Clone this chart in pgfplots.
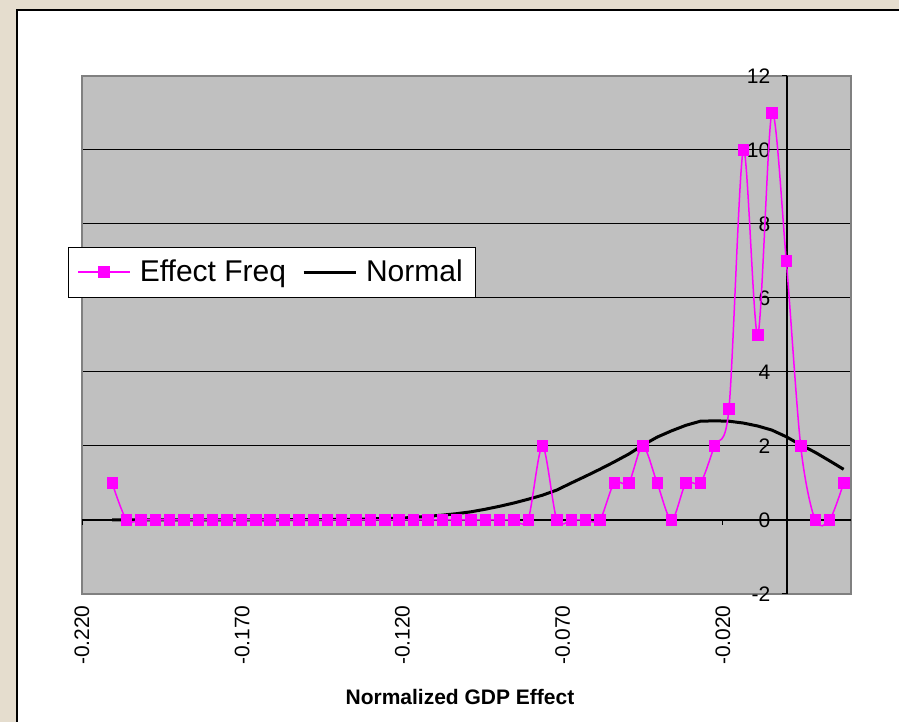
\documentclass[border=0pt]{standalone}
\usepackage{fontspec}
\setmainfont{Liberation Sans}
\usepackage{pgfplots}
\usepackage{pgfplotstable}
\pgfplotsset{compat=1.18}
\definecolor{bgbeige}{RGB}{229,221,206}
\definecolor{plotgray}{RGB}{192,192,192}
\definecolor{framegray}{RGB}{128,128,128}
\definecolor{mag}{RGB}{255,0,255}

\pgfplotstableread{
x y
-0.2106 1
-0.2061 0
-0.2016 0
-0.1972 0
-0.1927 0
-0.1882 0
-0.1837 0
-0.1793 0
-0.1748 0
-0.1703 0
-0.1658 0
-0.1614 0
-0.1569 0
-0.1524 0
-0.1479 0
-0.1434 0
-0.1390 0
-0.1345 0
-0.1300 0
-0.1255 0
-0.1211 0
-0.1166 0
-0.1121 0
-0.1076 0
-0.1032 0
-0.0987 0
-0.0942 0
-0.0897 0
-0.0852 0
-0.0808 0
-0.0763 2
-0.0718 0
-0.0673 0
-0.0629 0
-0.0584 0
-0.0539 1
-0.0494 1
-0.0450 2
-0.0405 1
-0.0360 0
-0.0315 1
-0.0270 1
-0.0226 2
-0.0181 3
-0.0136 10
-0.0091 5
-0.0047 11
-0.0002 7
0.0043 2
0.0088 0
0.0133 0
0.0177 1
}\freqtable

\pgfplotstableread{
x y
-0.2106 0.00
-0.2061 0.00
-0.2016 0.00
-0.1972 0.00
-0.1927 0.00
-0.1882 0.00
-0.1837 0.00
-0.1793 0.00
-0.1748 0.00
-0.1703 0.00
-0.1658 0.00
-0.1614 0.00
-0.1569 0.01
-0.1524 0.01
-0.1479 0.01
-0.1434 0.01
-0.1390 0.02
-0.1345 0.02
-0.1300 0.03
-0.1255 0.04
-0.1211 0.05
-0.1166 0.07
-0.1121 0.10
-0.1076 0.13
-0.1032 0.17
-0.0987 0.22
-0.0942 0.29
-0.0897 0.37
-0.0852 0.46
-0.0808 0.56
-0.0763 0.67
-0.0718 0.81
-0.0673 1.00
-0.0629 1.18
-0.0584 1.37
-0.0539 1.57
-0.0494 1.78
-0.0450 2.02
-0.0405 2.24
-0.0360 2.41
-0.0315 2.56
-0.0270 2.67
-0.0226 2.68
-0.0181 2.67
-0.0136 2.62
-0.0091 2.54
-0.0047 2.43
-0.0002 2.25
0.0043 2.03
0.0088 1.83
0.0133 1.60
0.0177 1.37
}\normtable

\begin{document}
\begin{tikzpicture}
\useasboundingbox (0pt,0pt) rectangle (449.5pt,361pt);
\fill[bgbeige] (0pt,0pt) rectangle (449.5pt,361pt);
\fill[white] (8.5pt,0pt) rectangle (449.5pt,356pt);
\draw[black,line width=0.75pt] (8.5pt,-1pt) -- (8.5pt,356pt) -- (451pt,356pt);

\begin{axis}[
  at={(41pt,64pt)}, anchor=south west,
  scale only axis, width=384.5pt, height=259pt,
  xmin=-0.22, xmax=0.02, ymin=-2, ymax=12,
  enlargelimits=false,
  axis background/.style={fill=plotgray},
  axis line style={framegray, line width=1pt},
  xtick={-0.22,-0.17,-0.12,-0.07,-0.02},
  xticklabels={-0.220,-0.170,-0.120,-0.070,-0.020},
  ytick={-2,0,2,4,6,8,10,12},
  yticklabels={-2,0,2,4,6,8,10,12},
  ymajorgrids, grid style={black, line width=0.5pt},
  major tick length=0pt,
  xticklabel shift=5.5pt,
  xticklabel style={rotate=90, anchor=east, inner sep=0pt, font=\fontsize{10.5}{12}\selectfont},
  yticklabel style={anchor=east, inner sep=0pt, xshift=344.3pt, font=\fontsize{10.5}{12}\selectfont},
  xlabel={Normalized GDP Effect},
  xlabel style={at={(axis description cs:0.4915,-0.1988)}, anchor=center, font=\fontsize{10.5}{12}\selectfont\bfseries},
]
\end{axis}

\begin{axis}[
  at={(41pt,64pt)}, anchor=south west,
  scale only axis, width=384.5pt, height=259pt,
  xmin=-0.22, xmax=0.02, ymin=-2, ymax=12,
  enlargelimits=false,
  axis x line=middle, axis y line=middle,
  axis line style={black, line width=0.6pt, -},
  every inner x axis line/.append style={-},
  every inner y axis line/.append style={-},
  xtick={-0.22,-0.17,-0.12,-0.07,-0.02},
  xticklabels={},
  ytick={-2,0,2,4,6,8,10,12},
  yticklabels={},
  tick align=outside, major tick length=2.5pt,
  tick style={black, line width=0.5pt},
  legend columns=2,
  legend style={at={(axis description cs:-0.0182,0.6216)}, anchor=west, draw=black, fill=white,
    font=\fontsize{15}{18}\selectfont, inner xsep=4.5pt, inner ysep=4.3pt,
    /tikz/every odd column/.append style={column sep=2.5pt},
    /tikz/every even column/.append style={column sep=6pt}},
  legend image code/.code={\draw[mark repeat=2,mark phase=2] plot coordinates {(0pt,0pt) (13pt,0pt) (26pt,0pt)};},
]
\addlegendimage{mag, line width=0.75pt, mark=square*, mark size=2.6pt, mark options={solid, fill=mag, draw=mag}}
\addlegendentry{Effect Freq}
\addlegendimage{black, line width=1.5pt}
\addlegendentry{Normal}
\addplot[black, line width=1.5pt, forget plot] table[x=x,y=y]{\normtable};
\addplot[mag, line width=0.75pt, smooth, mark=square*, mark size=2.6pt, mark options={fill=mag, draw=mag, line width=0.3pt}, forget plot] table[x=x,y=y]{\freqtable};
\end{axis}
\end{tikzpicture}
\end{document}
